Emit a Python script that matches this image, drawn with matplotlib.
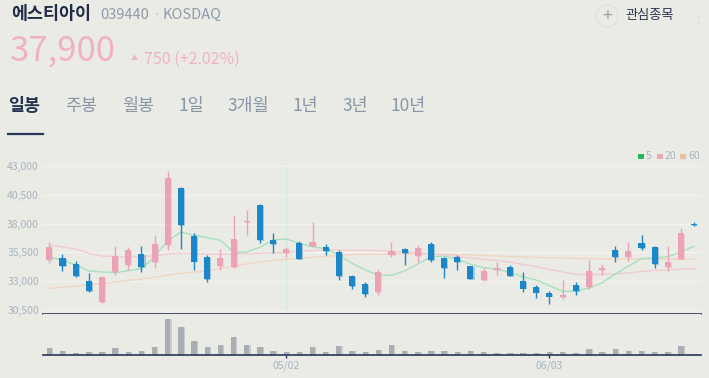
import matplotlib
matplotlib.use("Agg")
import matplotlib.pyplot as plt
from matplotlib.patches import Rectangle, Ellipse

plt.rcParams['font.family'] = ['Noto Sans CJK KR', 'DejaVu Sans']

# ---- data (daily candles) ----
opens = [34850, 35000, 34500, 33000, 31200, 33800, 34400, 35350, 34650, 36100,
         41100, 36900, 35100, 34300, 34250, 38150, 39600, 36550, 35450, 36300,
         36050, 35950, 35550, 33450, 32750, 32050, 35300, 35750, 35150, 36250,
         35000, 35050, 34300, 33050, 34000, 34250, 33000, 32500, 31950, 31650,
         32650, 32500, 34000, 35700, 35100, 36300, 35950, 34250, 34950, 37950]
highs = [36400, 35350, 34750, 33700, 33400, 36050, 35950, 36050, 37000, 42600,
         41200, 37200, 35250, 35750, 38750, 39200, 39750, 37200, 36000, 36500,
         38100, 36250, 35700, 33550, 32900, 34050, 36400, 35900, 36100, 36400,
         35050, 35250, 34350, 34100, 34650, 34400, 33750, 32650, 32150, 33050,
         32900, 34850, 34500, 36050, 36400, 37000, 36050, 36050, 37600, 38150]
lows = [34600, 33900, 33350, 32050, 31100, 33550, 33950, 33800, 34100, 35700,
        35800, 33950, 32900, 33950, 34100, 37050, 36350, 35450, 35100, 34900,
        35950, 35300, 33050, 32350, 31650, 31800, 35100, 34400, 34650, 34650,
        33250, 33950, 33150, 33000, 33550, 33450, 32050, 31550, 31000, 31450,
        31750, 32350, 33550, 34700, 34750, 35700, 34100, 33900, 34950, 37750]
closes = [35950, 34300, 33400, 32100, 33350, 35200, 35700, 34200, 36250, 41950,
          37900, 34700, 33150, 35000, 36650, 38200, 36600, 36250, 35750, 34900,
          36400, 35600, 33450, 32600, 31900, 33800, 35600, 35450, 35850, 34850,
          34150, 34650, 33150, 33900, 34050, 33450, 32350, 32000, 31650, 31700,
          32150, 33850, 34050, 35100, 35600, 35900, 34500, 34650, 37150, 37900]
volumes = [210, 120, 60, 90, 90, 200, 90, 120, 230, 1080,
           850, 420, 230, 300, 530, 310, 240, 120, 90, 90,
           230, 90, 270, 120, 90, 150, 310, 120, 90, 120,
           120, 90, 120, 90, 60, 60, 60, 60, 90, 90,
           60, 170, 90, 180, 120, 120, 90, 90, 270, 30]

# moving averages as drawn on the chart
ma5 = [35070, 34835, 34400, 33880, 33790, 33730, 33900, 34080, 35120, 36500,
       37250, 36990, 36780, 36550, 35500, 35530, 35940, 36580, 36660, 36290,
       35990, 35820, 35270, 34550, 33970, 33500, 33500, 33880, 34490, 35120,
       35160, 34900, 34460, 34170, 34030, 33760, 33360, 33090, 32600, 32110,
       32110, 32400, 32850, 33600, 34300, 34950, 35010, 35120, 35530, 36030]
ma20 = [36120, 35970, 35790, 35420, 35180, 35120, 35120, 35160, 35180, 35360,
        35420, 35380, 35360, 35360, 35360, 35380, 35420, 35440, 35490, 35560,
        35650, 35710, 35710, 35670, 35680, 35650, 35580, 35510, 35440, 35400,
        35270, 35140, 35010, 34900, 34790, 34660, 34440, 34250, 34010, 33790,
        33590, 33560, 33590, 33620, 33700, 33830, 33920, 33970, 34030, 34080]
ma60 = [32350, 32460, 32550, 32660, 32790, 32920, 33050, 33180, 33330, 33530,
        33680, 33790, 33880, 34100, 34310, 34490, 34660, 34790, 34900, 34980,
        35070, 35160, 35230, 35300, 35330, 35340, 35350, 35360, 35360, 35350,
        35330, 35300, 35270, 35230, 35180, 35140, 35100, 35070, 35030, 34990,
        34970, 34950, 34940, 34930, 34920, 34920, 34910, 34900, 34900, 34900]

price_ticks = [30500, 33000, 35500, 38000, 40500, 43000]
date_ticks = [18, 38]
date_labels = ['05/02', '06/03']
tabs = ['일봉', '주봉', '월봉', '1일', '3개월', '1년', '3년', '10년']
tab_x = [8, 65, 122, 178, 227, 293, 342, 391]

# ---- colours ----
BG = '#ebebe6'
UP = '#eba2b5'
DOWN = '#1b86c8'
NAVY = '#28365a'
LABEL = '#a6b4be'

W, H = 709, 378
fig = plt.figure(figsize=(W / 100, H / 100), dpi=100, facecolor=BG)


def px(x, y):
    return x / W, 1 - y / H


# ---- header ----
fig.text(*px(11, 14), '에스티아이', fontsize=12.5, fontweight='bold', color='#1f2b47', va='center')
fig.text(*px(100, 15), '039440', fontsize=10.5, color='#8c9bab', va='center')
fig.text(*px(153, 15), '·', fontsize=10.5, color='#c2cbd2', va='center')
fig.text(*px(163, 15), 'KOSDAQ', fontsize=10.5, color='#8c9bab', va='center')
fig.text(*px(10, 51), '37,900', fontsize=25, color='#f0b2c2', va='center')
fig.text(*px(131, 58), '▲', fontsize=5, color='#f0b2c2', va='center')
fig.text(*px(144, 59), '750 (+2.02%)', fontsize=11.5, color='#f0b2c2', va='center')

fig.add_artist(Ellipse(px(607, 16), 22 / W, 22 / H, transform=fig.transFigure,
                       facecolor='none', edgecolor='#d9e1e3', lw=1))
fig.text(*px(607, 16), '+', fontsize=13, color='#9aa6b1', ha='center', va='center')
fig.text(*px(625, 15), '관심종목', fontsize=9.5, color='#2a3550', va='center')
for dy in [11, 16, 22]:
    fig.text(*px(699, dy), '•', fontsize=4, color='#c5d2da', ha='center', va='center')

# ---- tabs ----
for i, (t, x) in enumerate(zip(tabs, tab_x)):
    if i == 0:
        fig.text(*px(x, 106), t, fontsize=12.5, fontweight='bold', color='#253452', va='center')
    else:
        fig.text(*px(x, 106), t, fontsize=12.5, color='#8796a5', va='center')
fig.add_artist(plt.Line2D([8 / W, 43 / W], [1 - 134 / H] * 2, transform=fig.transFigure,
                          color=NAVY, lw=1.6))

# ---- price panel ----
n = len(closes)
xs = list(range(n))
ax = fig.add_axes([43 / W, (H - 314) / H, 658 / W, 164 / H])
ax.set_facecolor(BG)
ax.set_xlim(-0.48, 49.52)
ax.set_ylim(30130, 44410)

for p in price_ticks:
    ax.axhline(p, color='#f3f3ef', lw=1, zorder=0)
ax.vlines(date_ticks[0], 30480, 42930, color='#d6e9df', lw=1, zorder=0)

ax.plot(xs, ma60, color='#f0d5c1', lw=1, zorder=1)
ax.plot(xs, ma20, color='#f1cbd1', lw=1, zorder=1)
ax.plot(xs, ma5, color='#a3e2bb', lw=1, zorder=2)

bw = 0.46
for i in xs:
    o, h, l, c = opens[i], highs[i], lows[i], closes[i]
    col = UP if c > o else DOWN
    lo = min(o, c)
    hgt = max(abs(c - o), 150)
    if abs(c - o) < 150:
        lo = (o + c) / 2 - 75
    ax.vlines(i, l, h, color=col, lw=1, zorder=3)
    ax.add_patch(Rectangle((i - bw / 2 + 0.08, lo - 80), bw, hgt, facecolor=col,
                           edgecolor='none', alpha=0.35, zorder=3))
    ax.add_patch(Rectangle((i - bw / 2, lo), bw, hgt, facecolor=col,
                           edgecolor='none', zorder=4))

ax.set_yticks(price_ticks)
ax.set_yticklabels([f'{p:,}' for p in price_ticks])
ax.tick_params(axis='y', length=0, pad=3, labelsize=7.5, labelcolor=LABEL)
ax.set_xticks([])
for s in ['top', 'right', 'left']:
    ax.spines[s].set_visible(False)
ax.spines['bottom'].set_color(NAVY)
ax.spines['bottom'].set_linewidth(1.2)

# legend
for (x, col, lab) in [(638, '#22b95b', '5'), (657, '#efa6b7', '20'), (680, '#e3c1a2', '60')]:
    fig.add_artist(Rectangle(px(x, 159), 6 / W, 5.5 / H, transform=fig.transFigure,
                             facecolor=col, edgecolor='none'))
    fig.text(*px(x + 8, 156.5), lab, fontsize=7.5, color='#a9b5bd', va='center')

# ---- volume panel ----
axv = fig.add_axes([43 / W, (H - 355) / H, 658 / W, 41 / H])
axv.set_facecolor(BG)
axv.set_xlim(-0.48, 49.52)
axv.set_ylim(0, 1230)
axv.bar([x + 0.06 for x in xs], volumes, width=0.46, color='#c8cccd', zorder=1)
axv.bar(xs, volumes, width=0.4, color='#a8aeb1', zorder=2)
axv.set_yticks([])
axv.set_xticks(date_ticks)
axv.set_xticklabels(date_labels)
axv.tick_params(axis='x', length=2.2, width=1, color=NAVY, pad=2, labelsize=7.5, labelcolor=LABEL)
for s in ['top', 'right', 'left']:
    axv.spines[s].set_visible(False)
axv.spines['bottom'].set_color(NAVY)
axv.spines['bottom'].set_linewidth(1.2)

fig.savefig('out.png', dpi=100, facecolor=BG)
